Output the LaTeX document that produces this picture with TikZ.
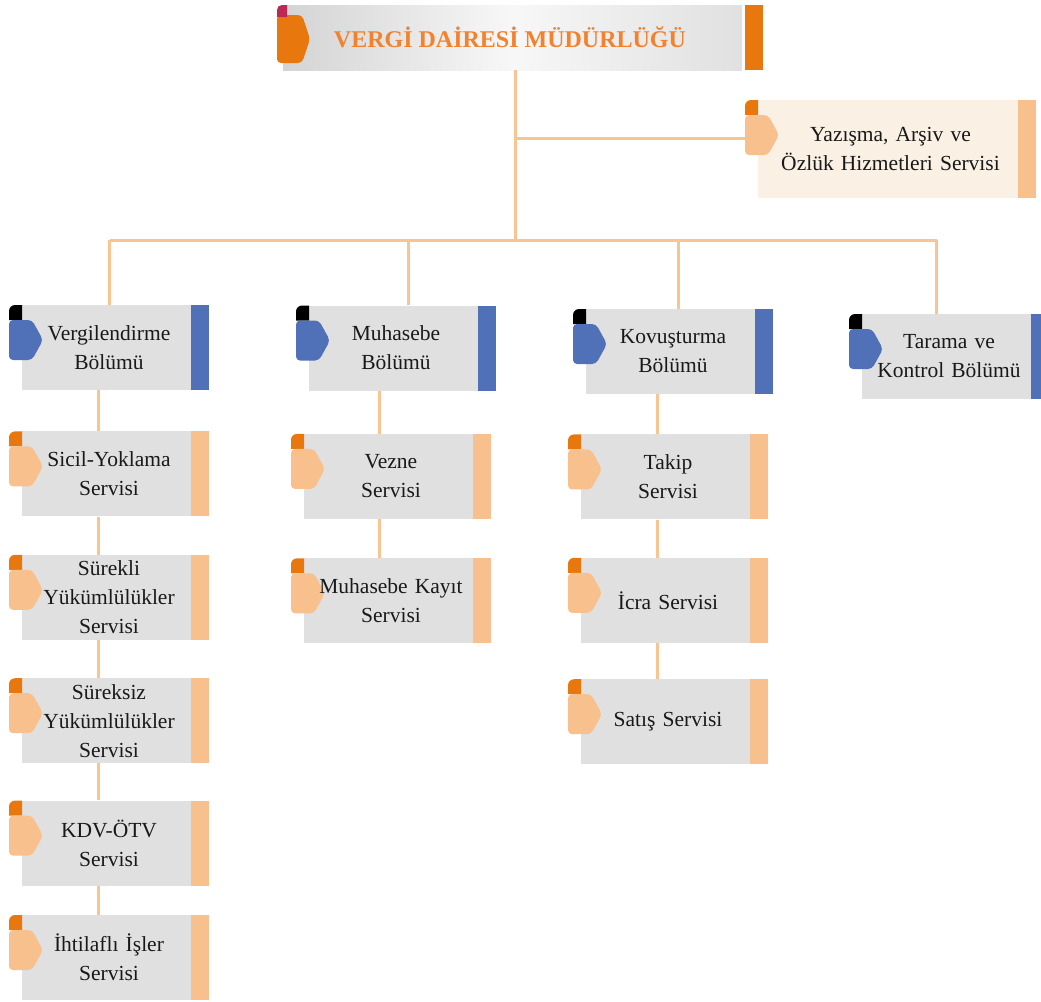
\documentclass[tikz,border=0pt]{standalone}
\usepackage{fontspec}
\setmainfont{Liberation Serif}
\usepackage{tikz}
\usetikzlibrary{positioning}

\definecolor{boxgray}{RGB}{224,224,224}
\definecolor{beige}{RGB}{250,240,228}
\definecolor{bolumblue}{RGB}{80,112,184}
\definecolor{servpeach}{RGB}{247,192,140}
\definecolor{tiporange}{RGB}{232,120,14}
\definecolor{linkcol}{RGB}{248,196,146}
\definecolor{headorange}{RGB}{242,130,45}
\definecolor{headmagenta}{RGB}{190,40,85}

\newcommand{\boxfont}{\fontsize{21.5}{29}\selectfont\spaceskip=0.21em plus 0.05em}
\newcommand{\headfont}{\fontsize{24}{28}\selectfont\bfseries}

\tikzset{tabcol/.store in=\tabcol, barcol/.store in=\barcol,
  cornercol/.store in=\cornercol, boxcol/.store in=\boxcol,
  tabcol=servpeach, barcol=servpeach, cornercol=tiporange, boxcol=boxgray}

% gray box, coloured bar on the right, tab and corner on the left
\newcommand{\unitdeco}{%
  \coordinate (nw) at (path picture bounding box.north west);
  \coordinate (se) at (path picture bounding box.south east);
  \coordinate (ne) at (se |- nw);
  \fill[\boxcol] ([xshift=13pt]nw) rectangle ([xshift=-18pt]se);
  \fill[\barcol] ([xshift=-18pt]ne) rectangle (se);
  \fill[\cornercol] ([yshift=-15pt]nw) -- ([yshift=-6pt]nw) arc[start angle=180, end angle=90, radius=6pt]
    -- ([xshift=13pt]nw) -- ([xshift=13pt,yshift=-15pt]nw) -- cycle;
  \fill[\tabcol, rounded corners=4pt] ([yshift=-15pt]nw) -- ([xshift=23pt,yshift=-15pt]nw)
    -- ([xshift=34pt,yshift=-35pt]nw) -- ([xshift=23pt,yshift=-55pt]nw) -- ([yshift=-55pt]nw) -- cycle;
}
\newcommand{\headdeco}{%
  \coordinate (nw) at (path picture bounding box.north west);
  \coordinate (se) at (path picture bounding box.south east);
  \coordinate (ne) at (se |- nw);
  \shade[left color=black!17, right color=black!12, middle color=black!3] ([xshift=6pt]nw) rectangle ([xshift=-21pt]se);
  \fill[tiporange] ([xshift=-18pt]ne) rectangle (se);
  \fill[tiporange, rounded corners=4pt] ([yshift=-10pt]nw) -- ([xshift=25pt,yshift=-10pt]nw)
    -- ([xshift=33pt,yshift=-34pt]nw) -- ([xshift=25pt,yshift=-58pt]nw) -- ([yshift=-58pt]nw) -- cycle;
  \fill[headmagenta] ([yshift=-12pt]nw) -- ([yshift=-5pt]nw) arc[start angle=180, end angle=90, radius=5pt]
    -- ([xshift=10pt]nw) -- ([xshift=10pt,yshift=-12pt]nw) -- cycle;
}

\tikzstyle{unit} = [rectangle, inner sep=0pt, minimum width=200pt, minimum height=85pt, text width=170pt, align=center, font=\boxfont, text=black!90, fill=white, path picture={\unitdeco}]
\tikzstyle{bolum} = [unit, tabcol=bolumblue, barcol=bolumblue, cornercol=black]
\tikzstyle{servis} = [unit, tabcol=servpeach, barcol=servpeach, cornercol=tiporange]
\tikzstyle{head} = [rectangle, inner sep=0pt, minimum width=486pt, minimum height=65pt, font=\headfont, text=headorange, fill=white, path picture={\headdeco}]
\tikzstyle{link} = [draw=linkcol, line width=3pt]

\begin{document}
\begin{tikzpicture}[x=1pt, y=-1pt]
    \useasboundingbox (0,0) rectangle (1041,1001);

    % Top and staff office
    \node (head) [head] at (520,37.5) {\hspace*{-20pt}VERGİ DAİRESİ MÜDÜRLÜĞÜ};
    \node (yaz) [servis, boxcol=beige, minimum width=291pt, minimum height=98pt, text width=260pt] at (890.5,149) {Yazışma, Arşiv ve\\Özlük Hizmetleri Servisi};

    % Departments
    \node (verg) [bolum] at (109,347.5) {Vergilendirme\\Bölümü};
    \node (muh) [bolum] at (396,348) {Muhasebe\\Bölümü};
    \node (kov) [bolum] at (673,351.5) {Kovuşturma\\Bölümü};
    \node (tar) [bolum] at (949,356.5) {Tarama ve\\Kontrol Bölümü};

    % Services under Vergilendirme
    \node (sicil) [servis, below=41pt of verg] {Sicil-Yoklama\\Servisi};
    \node (surekli) [servis, below=38pt of sicil] {Sürekli\\Yükümlülükler\\Servisi};
    \node (sureksiz) [servis, below=38pt of surekli] {Süreksiz\\Yükümlülükler\\Servisi};
    \node (kdv) [servis, below=37pt of sureksiz] {KDV-ÖTV\\Servisi};
    \node (iht) [servis, below=29pt of kdv] {İhtilaflı İşler\\Servisi};

    % Services under Muhasebe
    \node (vezne) [servis, below=43pt of muh, xshift=-5pt] {Vezne\\Servisi};
    \node (kayit) [servis, below=39pt of vezne] {Muhasebe Kayıt\\Servisi};

    % Services under Kovuşturma
    \node (takip) [servis, below=40pt of kov, xshift=-5pt] {Takip\\Servisi};
    \node (icra) [servis, below=38pt of takip] {İcra Servisi};
    \node (satis) [servis, below=36pt of icra] {Satış Servisi};

    % Trunk, staff branch and bus
    \coordinate (busL) at (110,240);
    \coordinate (busR) at (937,240);
    \coordinate (trunk) at ([xshift=-5pt]head.south);
    \coordinate (yazin) at ([yshift=11pt]yaz.west);
    \draw [link] (trunk) -- (trunk |- busL);
    \draw [link] (yazin) -- (yazin -| trunk);
    \draw [link] (busL) -- (busR);

    % Drops to the departments
    \coordinate (muhtop) at ([xshift=12pt]muh.north);
    \coordinate (kovtop) at ([xshift=5pt]kov.north);
    \coordinate (tartop) at ([xshift=-13pt]tar.north);
    \draw [link] (verg.north) -- (verg.north |- busL);
    \draw [link] (muhtop) -- (muhtop |- busL);
    \draw [link] (kovtop) -- (kovtop |- busL);
    \draw [link] (tartop) -- (tartop |- busL);

    % Vertical lines inside the columns
    \coordinate (vline) at ([xshift=-11pt]verg.south);
    \draw [link] (vline |- verg.south) -- (vline |- sicil.north);
    \draw [link] (vline |- sicil.south) -- (vline |- surekli.north);
    \draw [link] (vline |- surekli.south) -- (vline |- sureksiz.north);
    \draw [link] (vline |- sureksiz.south) -- (vline |- kdv.north);
    \draw [link] (vline |- kdv.south) -- (vline |- iht.north);

    \coordinate (mline) at ([xshift=-17pt]muh.south);
    \draw [link] (mline |- muh.south) -- (mline |- vezne.north);
    \draw [link] (mline |- vezne.south) -- (mline |- kayit.north);

    \coordinate (kline) at ([xshift=-16pt]kov.south);
    \draw [link] (kline |- kov.south) -- (kline |- takip.north);
    \draw [link] (kline |- takip.south) -- (kline |- icra.north);
    \draw [link] (kline |- icra.south) -- (kline |- satis.north);

\end{tikzpicture}
\end{document}
